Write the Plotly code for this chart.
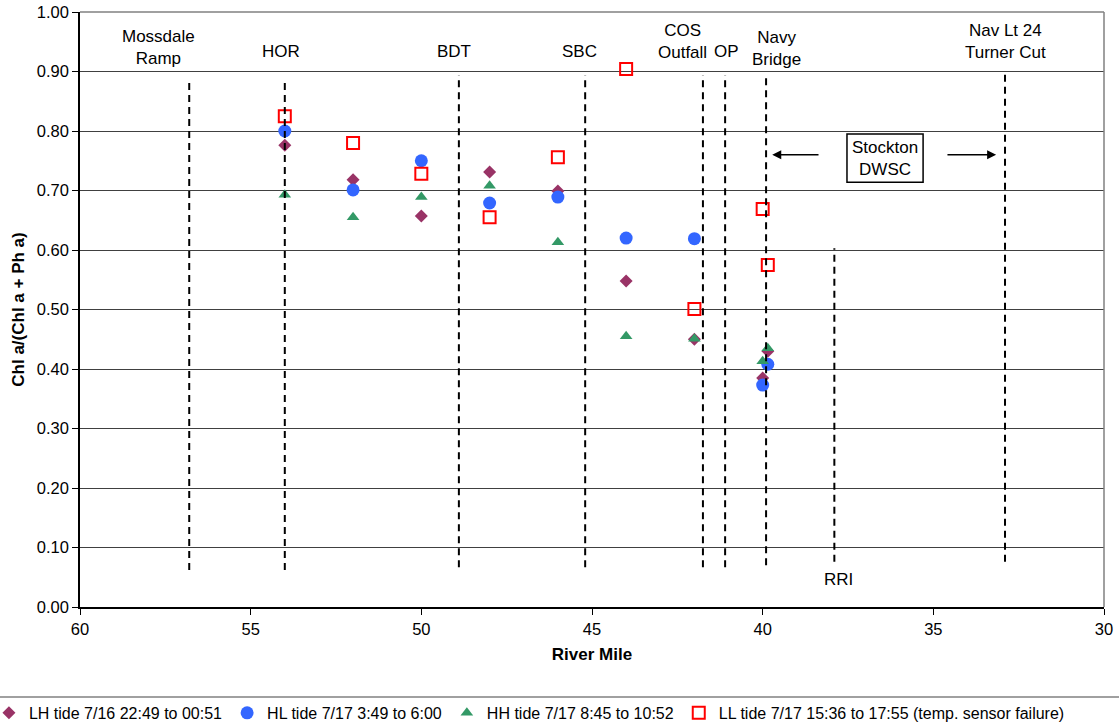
import plotly.graph_objects as go

# ---- data ----
lh_mile = [54, 52, 50, 48, 46, 44, 42, 40.0, 39.85]
lh_val = [0.776, 0.718, 0.657, 0.731, 0.699, 0.548, 0.450, 0.385, 0.430]

hl_mile = [54, 52, 50, 48, 46, 44, 42, 40.0, 39.85]
hl_val = [0.800, 0.701, 0.750, 0.679, 0.689, 0.620, 0.619, 0.373, 0.408]

hh_mile = [54, 52, 50, 48, 46, 44, 42, 40.0, 39.85]
hh_val = [0.693, 0.655, 0.689, 0.708, 0.613, 0.455, 0.451, 0.413, 0.435]

ll_mile = [54, 52, 50, 48, 46, 44, 42, 40.0, 39.85]
ll_val = [0.825, 0.780, 0.728, 0.655, 0.756, 0.904, 0.501, 0.669, 0.575]

series_names = [
    "LH tide 7/16 22:49 to 00:51",
    "HL tide 7/17 3:49 to 6:00",
    "HH tide 7/17 8:45 to 10:52",
    "LL tide 7/17 15:36 to 17:55 (temp. sensor failure)",
]

# site reference lines (river mile) with their labels
site_labels = ["Mossdale<br>Ramp", "HOR", "BDT", "SBC", "COS<br>Outfall", "OP",
               "Navy<br>Bridge", "RRI", "Nav Lt 24<br>Turner Cut"]
site_miles = [56.8, 54.0, 48.9, 45.2, 41.75, 41.1, 39.9, 37.9, 32.9]
line_top = [0.889, 0.889, 0.894, 0.894, 0.894, 0.894, 0.890, 0.603, 0.903]
line_bot = [0.062, 0.062, 0.067, 0.067, 0.067, 0.067, 0.070, 0.076, 0.076]
label_mile = [57.7, 54.11, 49.04, 45.38, 42.36, 41.07, 39.6, 37.77, 32.88]
label_y = [0.940, 0.933, 0.933, 0.933, 0.951, 0.933, 0.939, 0.047, 0.951]

x_ticks = [60, 55, 50, 45, 40, 35, 30]
y_ticks = [0.0, 0.1, 0.2, 0.3, 0.4, 0.5, 0.6, 0.7, 0.8, 0.9, 1.0]

FONT = "Liberation Sans, Arial, sans-serif"

fig = go.Figure()
fig.add_trace(go.Scatter(x=lh_mile, y=lh_val, mode="markers", name=series_names[0],
                         marker=dict(symbol="diamond", size=10, color="#993366")))
fig.add_trace(go.Scatter(x=hl_mile, y=hl_val, mode="markers", name=series_names[1],
                         marker=dict(symbol="circle", size=13, color="#3366FF")))
fig.add_trace(go.Scatter(x=hh_mile, y=hh_val, mode="markers", name=series_names[2],
                         marker=dict(symbol="triangle-up", size=11, color="#339966")))
fig.add_trace(go.Scatter(x=ll_mile, y=ll_val, mode="markers", name=series_names[3],
                         marker=dict(symbol="square-open", size=12, color="#FF0000",
                                     line=dict(width=2, color="#FF0000"))))

shapes = []
for m, t, b in zip(site_miles, line_top, line_bot):
    shapes.append(dict(type="line", xref="x", yref="y", x0=m, x1=m, y0=b, y1=t,
                       line=dict(color="black", width=2, dash="7px,5px"), layer="above"))
# top and right border of plot area
shapes.append(dict(type="line", xref="paper", yref="paper", x0=0, x1=1, y0=1, y1=1,
                   line=dict(color="#808080", width=1.5)))
shapes.append(dict(type="line", xref="paper", yref="paper", x0=1, x1=1, y0=0, y1=1,
                   line=dict(color="#808080", width=1.5)))
# legend box top border
shapes.append(dict(type="line", xref="paper", yref="paper", x0=-0.09, x1=1.03,
                   y0=-0.1513, y1=-0.1513, line=dict(color="#808080", width=1.5)))
# Stockton DWSC box
shapes.append(dict(type="rect", xref="x", yref="y", x0=37.53, x1=35.30, y0=0.714, y1=0.795,
                   line=dict(color="black", width=1.5), fillcolor="white"))

annotations = []
for lab, m, y in zip(site_labels, label_mile, label_y):
    annotations.append(dict(x=m, y=y, xref="x", yref="y", text=lab, showarrow=False,
                            font=dict(family=FONT, size=17, color="black"), align="center"))
annotations.append(dict(x=36.41, y=0.7545, xref="x", yref="y", text="Stockton<br>DWSC",
                        showarrow=False, font=dict(family=FONT, size=17, color="black")))
# arrows
annotations.append(dict(x=39.72, y=0.760, ax=38.32, ay=0.760, xref="x", yref="y",
                        axref="x", ayref="y", text="", showarrow=True, arrowhead=2,
                        arrowsize=1.2, arrowwidth=1.5, arrowcolor="black"))
annotations.append(dict(x=33.16, y=0.760, ax=34.63, ay=0.760, xref="x", yref="y",
                        axref="x", ayref="y", text="", showarrow=True, arrowhead=2,
                        arrowsize=1.2, arrowwidth=1.5, arrowcolor="black"))

fig.update_layout(
    width=1119, height=727,
    margin=dict(l=80, r=15, t=12, b=120, autoexpand=False),
    paper_bgcolor="white", plot_bgcolor="white",
    font=dict(family=FONT, size=16, color="black"),
    shapes=shapes, annotations=annotations,
    showlegend=True,
    legend=dict(orientation="h", xref="paper", yref="paper",
                x=-0.0889, xanchor="left", y=-0.178, yanchor="middle",
                bgcolor="rgba(0,0,0,0)",
                font=dict(family=FONT, size=16), itemwidth=30, tracegroupgap=0),
    xaxis=dict(range=[60, 30], tickvals=x_ticks, ticks="outside", ticklen=6,
               tickcolor="black", showline=True, linecolor="black", linewidth=1.5,
               showgrid=False, zeroline=False, automargin=False,
               title=dict(text="<b>River Mile</b>", font=dict(size=17), standoff=12),
               tickfont=dict(size=16.5)),
    yaxis=dict(range=[0, 1], tickvals=y_ticks, tickformat=".2f", ticks="outside",
               ticklen=6, tickcolor="black", showline=True, linecolor="black",
               linewidth=1.5, showgrid=True, gridcolor="#404040", gridwidth=1,
               zeroline=False, automargin=False,
               title=dict(text="<b>Chl a/(Chl a + Ph a)</b>", font=dict(size=17), standoff=8),
               tickfont=dict(size=16.5)),
)

fig.write_html("out.html")
